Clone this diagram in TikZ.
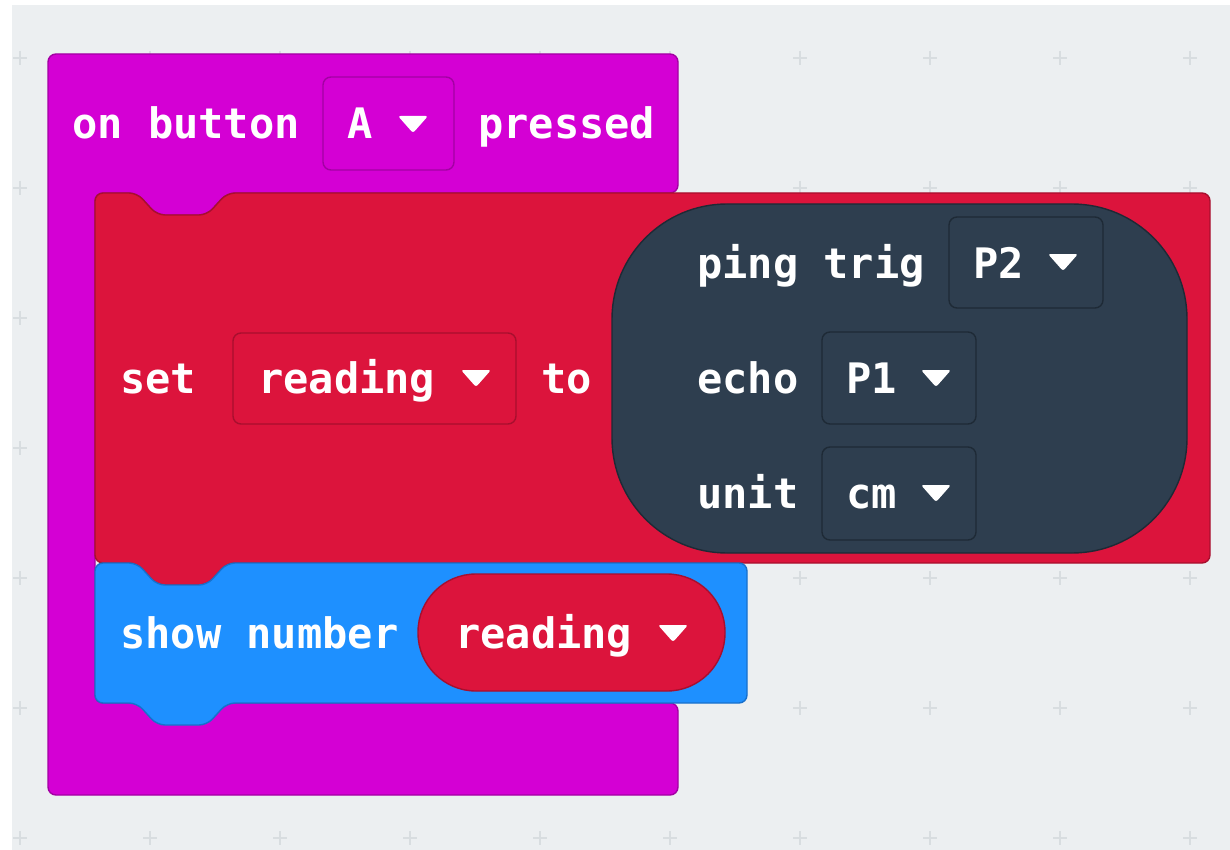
\documentclass[tikz,border=0pt]{standalone}
\usepackage{fontspec}
\setmonofont{DejaVu Sans Mono}
\definecolor{canvas}{HTML}{ECEFF1}
\definecolor{gridgray}{HTML}{D8DDE0}
\definecolor{inputmag}{HTML}{D400D4}
\definecolor{magline}{HTML}{A300A3}
\definecolor{varred}{HTML}{DC143C}
\definecolor{redline}{HTML}{A80F2E}
\definecolor{basicblue}{HTML}{1E90FF}
\definecolor{blueline}{HTML}{1870CC}
\definecolor{sonar}{HTML}{2E3E4F}
\definecolor{sonarline}{HTML}{1E2A36}
\begin{document}
\begin{tikzpicture}[x=1pt, y=-1pt,
    txt/.style={anchor=base west, inner sep=0pt, text=white, font=\ttfamily\bfseries\fontsize{42}{42}\selectfont},
    dd/.style={draw=#1, line width=1.4pt, rounded corners=8pt, inner sep=0pt},
    blk/.style={line width=1.4pt, rounded corners=8pt},
    plus/.style={draw=gridgray, line width=1.5pt},
    ddtri/.pic={\fill[white, rounded corners=2.5pt] (-15,-8) -- (15,-8) -- (0,9) -- cycle;}
]
    \useasboundingbox (0,0) rectangle (1230,850);
    \fill[white] (0,0) rectangle (1230,850);
    \fill[canvas] (12,5) rectangle (1230,850);

    % grid marks
    \foreach \gx in {20,150,...,1190}
        \foreach \gy in {58,188,...,838}
            \draw[plus] (\gx-7,\gy) -- (\gx+7,\gy) (\gx,\gy-7) -- (\gx,\gy+7);

    % on button A pressed
    \draw[blk, fill=inputmag, draw=magline]
        (48,54) -- (678,54) -- (678,193) -- (227,193) -- (207,215) -- (157,215) -- (137,193)
        -- (95,193) -- (95,703) -- (678,703) -- (678,795) -- (48,795) -- cycle;

    % set reading to
    \draw[blk, fill=varred, draw=redline]
        (95,193) -- (137,193) -- (157,215) -- (207,215) -- (227,193) -- (1210,193)
        -- (1210,563) -- (227,563) -- (207,585) -- (157,585) -- (137,563) -- (95,563) -- cycle;

    % show number
    \draw[blk, fill=basicblue, draw=blueline]
        (95,563) -- (137,563) -- (157,585) -- (207,585) -- (227,563) -- (747,563)
        -- (747,703) -- (227,703) -- (207,725) -- (157,725) -- (137,703) -- (95,703) -- cycle;

    % dropdowns and reporters
    \node[dd=magline, fill=inputmag, minimum width=131pt, minimum height=93pt] (btnbox) at (388.5,123.5) {};
    \node[dd=redline, fill=varred, minimum width=283pt, minimum height=91pt] (varbox) at (374.5,378.5) {};
    \node[dd=sonarline, fill=sonar, rounded corners=115pt, minimum width=575pt, minimum height=349pt] (ping) at (899.5,378.5) {};
    \node[dd=sonarline, fill=sonar, minimum width=154pt, minimum height=91pt] (trigbox) at (1026,262.5) {};
    \node[dd=sonarline, fill=sonar, minimum width=154pt, minimum height=92pt] (echobox) at (899,378) {};
    \node[dd=sonarline, fill=sonar, minimum width=154pt, minimum height=93pt] (unitbox) at (899,493.5) {};
    \node[dd=redline, fill=varred, rounded corners=58pt, minimum width=307pt, minimum height=117pt] (readpill) at (571.5,632.5) {};

    % labels
    \node[txt] (onbtn) at (72,139) {on button};
    \node[txt] (btnA) at (347,139) {A};
    \node[txt] (pressed) at (478,139) {pressed};
    \node[txt] (setlbl) at (120,393) {set};
    \node[txt] (varlbl) at (258,393) {reading};
    \node[txt] (tolbl) at (541,393) {to};
    \node[txt] (pinglbl) at (697,278) {ping trig};
    \node[txt] (triglbl) at (973,278) {P2};
    \node[txt] (echolbl) at (697,393) {echo};
    \node[txt] (echopin) at (846,393) {P1};
    \node[txt] (unitlbl) at (697,508) {unit};
    \node[txt] (unitval) at (846,508) {cm};
    \node[txt] (showlbl) at (120,648) {show number};
    \node[txt] (readlbl) at (455,648) {reading};

    \pic at (413,124) {ddtri};
    \pic at (476,378) {ddtri};
    \pic at (1063,262) {ddtri};
    \pic at (936,378) {ddtri};
    \pic at (936,493) {ddtri};
    \pic at (673,633) {ddtri};
\end{tikzpicture}
\end{document}
